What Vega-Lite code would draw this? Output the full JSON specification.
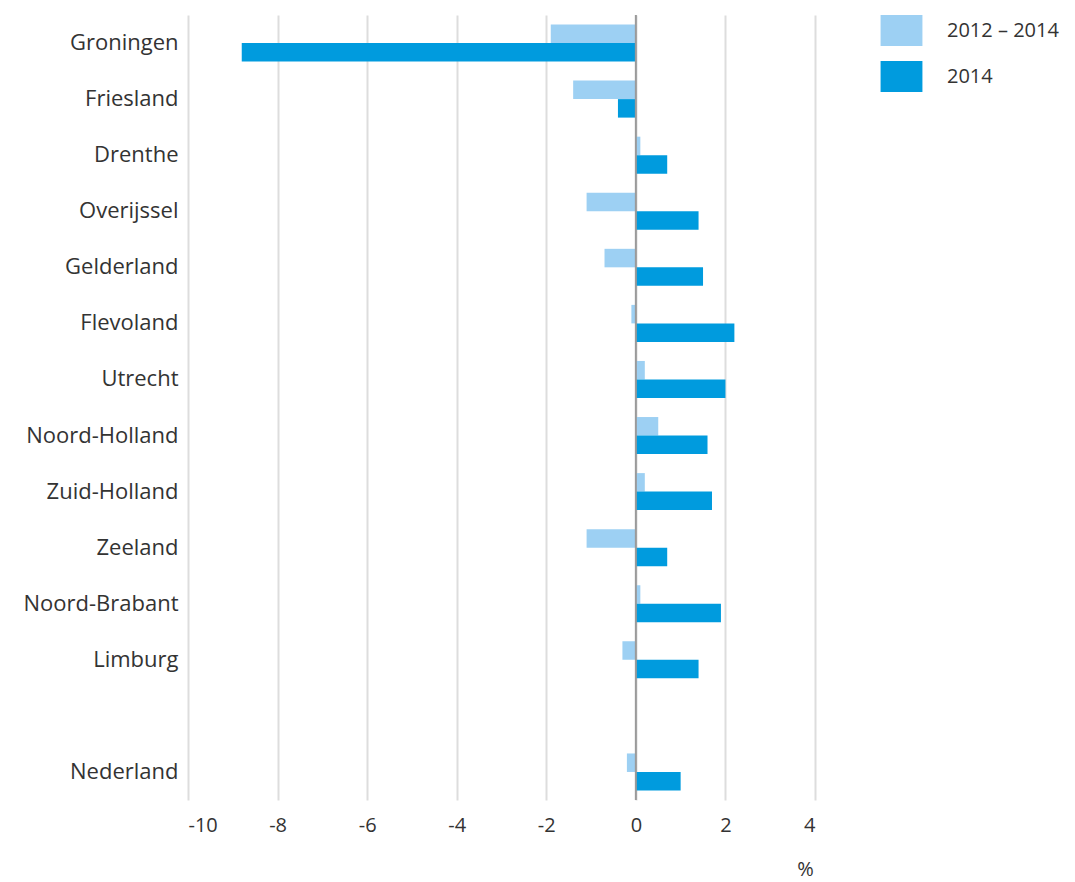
{
  "$schema": "https://vega.github.io/schema/vega-lite/v6.json",
  "width": 627,
  "height": 785,
  "autosize": "none",
  "padding": {"left": 188, "top": 15, "right": 260, "bottom": 82},
  "config": {"view": {"stroke": null}, "font": "Open Sans"},
  "data": {
    "values": [
      {"region": "Groningen", "series": "2012 – 2014", "value": -1.9},
      {"region": "Groningen", "series": "2014", "value": -8.8},
      {"region": "Friesland", "series": "2012 – 2014", "value": -1.4},
      {"region": "Friesland", "series": "2014", "value": -0.4},
      {"region": "Drenthe", "series": "2012 – 2014", "value": 0.1},
      {"region": "Drenthe", "series": "2014", "value": 0.7},
      {"region": "Overijssel", "series": "2012 – 2014", "value": -1.1},
      {"region": "Overijssel", "series": "2014", "value": 1.4},
      {"region": "Gelderland", "series": "2012 – 2014", "value": -0.7},
      {"region": "Gelderland", "series": "2014", "value": 1.5},
      {"region": "Flevoland", "series": "2012 – 2014", "value": -0.1},
      {"region": "Flevoland", "series": "2014", "value": 2.2},
      {"region": "Utrecht", "series": "2012 – 2014", "value": 0.2},
      {"region": "Utrecht", "series": "2014", "value": 2.0},
      {"region": "Noord-Holland", "series": "2012 – 2014", "value": 0.5},
      {"region": "Noord-Holland", "series": "2014", "value": 1.6},
      {"region": "Zuid-Holland", "series": "2012 – 2014", "value": 0.2},
      {"region": "Zuid-Holland", "series": "2014", "value": 1.7},
      {"region": "Zeeland", "series": "2012 – 2014", "value": -1.1},
      {"region": "Zeeland", "series": "2014", "value": 0.7},
      {"region": "Noord-Brabant", "series": "2012 – 2014", "value": 0.1},
      {"region": "Noord-Brabant", "series": "2014", "value": 1.9},
      {"region": "Limburg", "series": "2012 – 2014", "value": -0.3},
      {"region": "Limburg", "series": "2014", "value": 1.4},
      {"region": "Nederland", "series": "2012 – 2014", "value": -0.2},
      {"region": "Nederland", "series": "2014", "value": 1.0}
    ]
  },
  "layer": [
    {
      "mark": {"type": "bar"},
      "encoding": {
        "y": {
          "field": "region",
          "type": "nominal",
          "scale": {
            "domain": ["Groningen", "Friesland", "Drenthe", "Overijssel", "Gelderland", "Flevoland", "Utrecht", "Noord-Holland", "Zuid-Holland", "Zeeland", "Noord-Brabant", "Limburg", " ", "Nederland"],
            "paddingInner": 0.34,
            "paddingOuter": 0.17
          },
          "axis": {"title": null, "domain": false, "ticks": false, "grid": false, "labelFontSize": 22, "labelColor": "#333333", "labelPadding": 10}
        },
        "yOffset": {
          "field": "series",
          "type": "nominal",
          "scale": {"domain": ["2012 – 2014", "2014"], "paddingInner": 0, "paddingOuter": 0}
        },
        "x": {
          "field": "value",
          "type": "quantitative",
          "scale": {"domain": [-10, 4], "nice": false, "zero": false},
          "axis": {
            "values": [-10, -8, -6, -4, -2, 0, 2, 4],
            "labelExpr": "datum.value < 0 ? '-' + abs(datum.value) : '' + datum.value",
            "grid": true, "gridColor": "#dddddd", "gridWidth": 2,
            "domain": false, "ticks": false,
            "labelPadding": 15, "labelFontSize": 20, "labelColor": "#333333",
            "title": "%", "titleX": 617, "titleY": 79, "titleAlign": "center", "titleBaseline": "bottom",
            "titleFontWeight": "normal", "titleFontSize": 20, "titleColor": "#333333"
          }
        },
        "color": {
          "field": "series",
          "type": "nominal",
          "scale": {"domain": ["2012 – 2014", "2014"], "range": ["#9dd0f3", "#009bde"]},
          "legend": {
            "title": null,
            "orient": "none",
            "legendX": 698,
            "legendY": 0,
            "padding": 0,
            "symbolType": "M-1.35,-1H1.35V1H-1.35Z",
            "symbolSize": 961,
            "symbolStrokeWidth": 0,
            "symbolOpacity": 1,
            "rowPadding": 15,
            "labelOffset": 30,
            "labelFontSize": 20,
            "labelColor": "#333333"
          }
        }
      }
    },
    {
      "data": {"values": [{"x": 0}]},
      "mark": {"type": "rule", "color": "#9a9a9a", "strokeWidth": 2},
      "encoding": {"x": {"field": "x", "type": "quantitative"}}
    }
  ]
}
